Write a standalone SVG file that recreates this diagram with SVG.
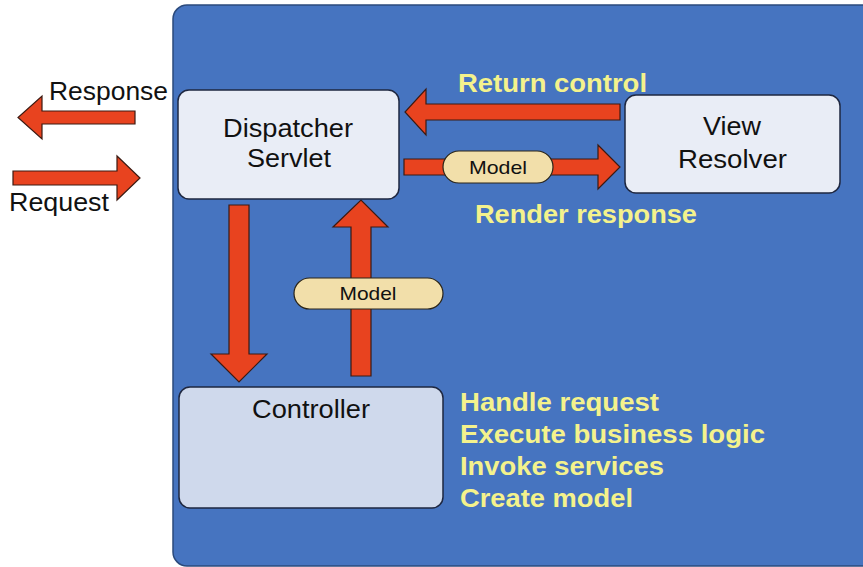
<svg xmlns="http://www.w3.org/2000/svg" width="863" height="567" viewBox="0 0 863 567">
<style>
.box{stroke:#1e2740;stroke-width:1.5}
.arr{fill:#e8431f;stroke:#3b1a12;stroke-width:1.2}
.pill{fill:#f2dfaa;stroke:#2a2418;stroke-width:1.2}
.lbl{font-family:"Liberation Sans",Arial,sans-serif;fill:#111;font-size:25px}
.yl{font-family:"Liberation Sans",Arial,sans-serif;font-weight:bold;fill:#f4f28c;font-size:25px}
.sm{font-family:"Liberation Sans",Arial,sans-serif;fill:#111;font-size:19px}
</style>
<rect x="173" y="5" width="720" height="561" rx="14" fill="#4674c0" stroke="#2b4a7c" stroke-width="1.5"/>
<g id="connectors">
<polygon class="arr" points="135,111 42,111 42,96 18,117.5 42,139 42,124 135,124"/>
<polygon class="arr" points="13,171 117,171 117,156 140,178 117,200 117,185 13,185"/>
<polygon class="arr" points="620,104 426,104 426,89 405,112 426,135 426,120 620,120"/>
<polygon class="arr" points="404,159 598,159 598,145 620,167 598,189 598,175 404,175"/>
<polygon class="arr" points="229,205 249,205 249,354 267,354 239,382 211,354 229,354"/>
<polygon class="arr" points="351,376 371,376 371,227 388,227 361,200 333,227 351,227"/>
</g>
<g id="response-label"><text class="lbl" x="49" y="100" textLength="119" lengthAdjust="spacingAndGlyphs">Response</text></g>
<g id="request-label"><text class="lbl" x="9" y="211" textLength="100" lengthAdjust="spacingAndGlyphs">Request</text></g>
<g id="dispatcher">
<rect class="box" x="178" y="90" width="221" height="109" rx="11" fill="#e9edf6"/>
<text class="lbl" x="223" y="137" textLength="130" lengthAdjust="spacingAndGlyphs">Dispatcher</text>
<text class="lbl" x="247" y="167" textLength="84" lengthAdjust="spacingAndGlyphs">Servlet</text>
</g>
<g id="view-resolver">
<rect class="box" x="625" y="95" width="215" height="98" rx="11" fill="#e9edf6"/>
<text class="lbl" x="703" y="135" textLength="58" lengthAdjust="spacingAndGlyphs">View</text>
<text class="lbl" x="678" y="168" textLength="109" lengthAdjust="spacingAndGlyphs">Resolver</text>
</g>
<g id="controller">
<rect class="box" x="179" y="387" width="264" height="121" rx="11" fill="#cfd9ec"/>
<text class="lbl" x="252" y="418" textLength="118" lengthAdjust="spacingAndGlyphs">Controller</text>
</g>
<g id="model-h">
<rect class="pill" x="443" y="151" width="110" height="32" rx="16"/>
<text class="sm" x="498" y="174" text-anchor="middle" textLength="58" lengthAdjust="spacingAndGlyphs">Model</text>
</g>
<g id="model-v">
<rect class="pill" x="294" y="278" width="149" height="31" rx="15.5"/>
<text class="sm" x="368" y="300" text-anchor="middle" textLength="57" lengthAdjust="spacingAndGlyphs">Model</text>
</g>
<g id="notes">
<text class="yl" x="458" y="92" textLength="189" lengthAdjust="spacingAndGlyphs">Return control</text>
<text class="yl" x="475" y="223" textLength="222" lengthAdjust="spacingAndGlyphs">Render response</text>
<text class="yl" x="460" y="411" textLength="199" lengthAdjust="spacingAndGlyphs">Handle request</text>
<text class="yl" x="460" y="443" textLength="305" lengthAdjust="spacingAndGlyphs">Execute business logic</text>
<text class="yl" x="460" y="475" textLength="204" lengthAdjust="spacingAndGlyphs">Invoke services</text>
<text class="yl" x="460" y="507" textLength="173" lengthAdjust="spacingAndGlyphs">Create model</text>
</g>
</svg>
